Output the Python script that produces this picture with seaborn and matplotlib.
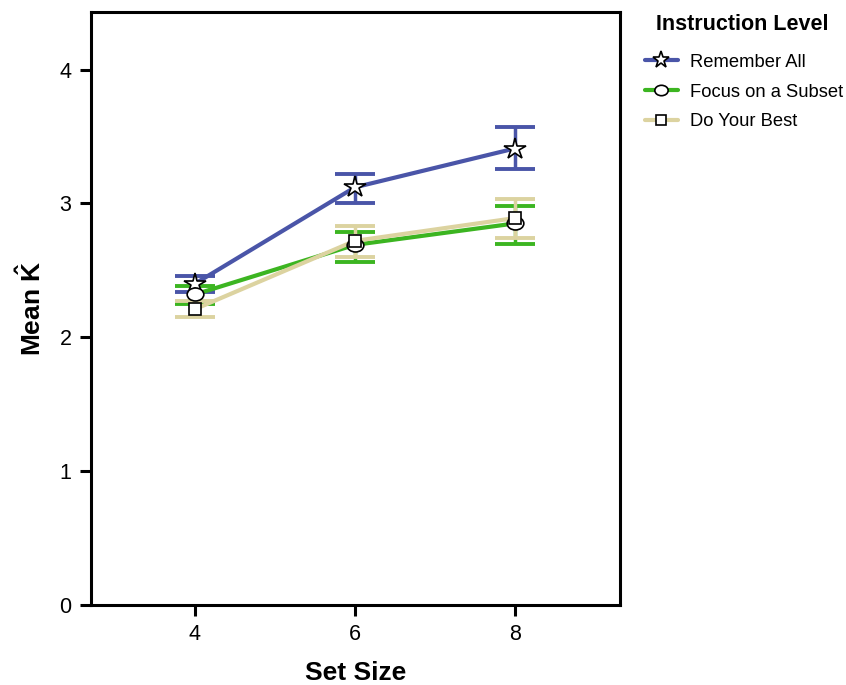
import matplotlib
matplotlib.use("Agg")
import matplotlib.pyplot as plt
import seaborn as sns
import pandas as pd
from matplotlib.lines import Line2D
from matplotlib.path import Path
from matplotlib.transforms import Affine2D

set_sizes = [4, 6, 8]
groups = ["Remember All", "Focus on a Subset", "Do Your Best"]
remember_mean = [2.40, 3.12, 3.41]
remember_lo = [2.34, 3.00, 3.26]
remember_hi = [2.46, 3.22, 3.57]
focus_mean = [2.32, 2.69, 2.85]
focus_lo = [2.25, 2.56, 2.70]
focus_hi = [2.38, 2.79, 2.98]
best_mean = [2.21, 2.72, 2.89]
best_lo = [2.15, 2.60, 2.74]
best_hi = [2.27, 2.83, 3.03]
y_ticks = [0, 1, 2, 3, 4]

colors = ["#4a55a8", "#3cb521", "#dcd3a0"]
ellipse = Path(Affine2D().scale(1.0, 0.78).transform(Path.unit_circle().vertices),
               Path.unit_circle().codes)
markers = ["*", ellipse, "s"]
msizes = [16, 12, 9]

sns.set_style("white")
plt.rcParams['font.family'] = ['Liberation Sans', 'DejaVu Sans']
plt.rcParams['text.color'] = 'black'
plt.rcParams['axes.labelcolor'] = 'black'
plt.rcParams['xtick.color'] = 'black'
plt.rcParams['ytick.color'] = 'black'
plt.rcParams['mathtext.fontset'] = 'custom'
plt.rcParams['mathtext.bf'] = 'Liberation Sans:bold'
plt.rcParams['mathtext.rm'] = 'Liberation Sans'

rows = []
for g, m in zip(groups, [remember_mean, focus_mean, best_mean]):
    for x, v in zip(set_sizes, m):
        rows.append({"Set Size": x, "Mean": v, "Instruction Level": g})
df = pd.DataFrame(rows)

fig = plt.figure(figsize=(8.46, 6.85), dpi=100)
ax = fig.add_axes([0.1076, 0.1168, 0.6254, 0.8657])

los = [remember_lo, focus_lo, best_lo]
his = [remember_hi, focus_hi, best_hi]
means = [remember_mean, focus_mean, best_mean]
for i, g in enumerate(groups):
    m = means[i]
    ax.errorbar(set_sizes, m,
                yerr=[[a - b for a, b in zip(m, los[i])], [b - a for a, b in zip(m, his[i])]],
                fmt="none", ecolor=colors[i], elinewidth=2.5, capsize=14.5, capthick=2.8, zorder=2)

sns.lineplot(data=df, x="Set Size", y="Mean", hue="Instruction Level",
             hue_order=groups, palette=colors, linewidth=3, ax=ax, legend=False,
             zorder=3)
for i, g in enumerate(groups):
    ax.plot(set_sizes, means[i], linestyle="none", marker=markers[i],
            markersize=msizes[i], markerfacecolor="white", markeredgecolor="black",
            markeredgewidth=1.2, zorder=5)

ax.set_xlim(2.7, 9.32)
ax.set_ylim(0, 4.43)
ax.set_xticks(set_sizes)
ax.set_yticks(y_ticks)
ax.tick_params(axis="both", direction="out", length=8, width=2.2, labelsize=15.5,
               left=True, bottom=True, pad=6)
for s in ax.spines.values():
    s.set_linewidth(2.2)
    s.set_color("black")

ax.set_xlabel("Set Size", fontsize=19, fontweight="bold", labelpad=11.5)
ax.set_ylabel(r"Mean $\mathbf{\hat{K}}$", fontsize=19, fontweight="bold", labelpad=10)

handles = [Line2D([0], [0], color=colors[i], lw=3, marker=markers[i],
                  markersize=msizes[i] * 0.8, markerfacecolor="white",
                  markeredgecolor="black", markeredgewidth=1.2)
           for i in range(3)]
leg = ax.legend(handles, groups, loc="upper left",
                bbox_to_anchor=(1.033, 0.942), borderaxespad=0, frameon=False,
                fontsize=13.2, handlelength=1.8, handletextpad=0.65, labelspacing=0.7)
fig.text(742 / 846, 1 - 30 / 685, "Instruction Level", ha="center", va="baseline",
         fontsize=15.5, fontweight="bold")

fig.savefig("out.png", dpi=100)
